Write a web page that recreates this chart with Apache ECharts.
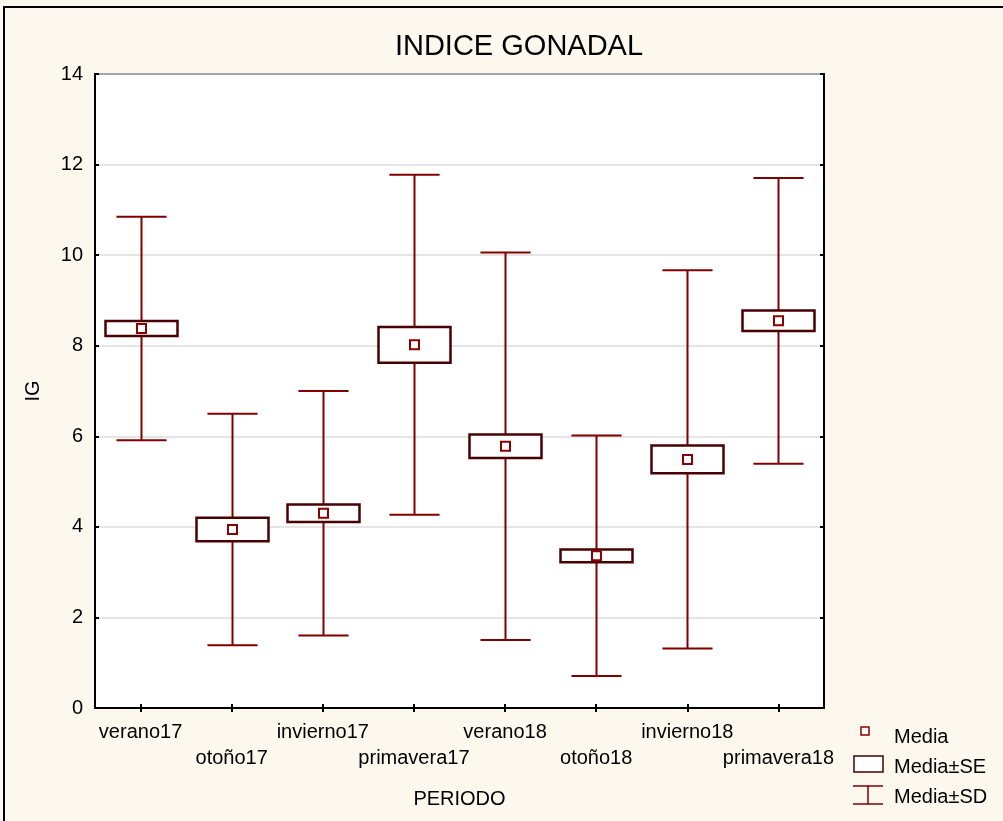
<!DOCTYPE html>
<html>
<head>
<meta charset="utf-8">
<style>
  html, body { margin: 0; padding: 0; background: #fdf8ee; }
  #chart { width: 1003px; height: 821px; }
</style>
<script src="https://cdn.jsdelivr.net/npm/echarts@6/dist/echarts.min.js"></script>
</head>
<body>
<div id="chart"></div>
<script>
// Periods (x categories)
const periods = ['verano17', 'otoño17', 'invierno17', 'primavera17',
                 'verano18', 'otoño18', 'invierno18', 'primavera18'];
// Mean gonadal index per period
const mediaIG = [8.38, 3.94, 4.30, 8.02, 5.78, 3.36, 5.49, 8.55];
// Standard error per period (box half-height)
const errorEstandar = [0.165, 0.26, 0.195, 0.395, 0.26, 0.14, 0.305, 0.225];
// Standard deviation per period (whisker half-length)
const desvEstandar = [2.47, 2.555, 2.70, 3.755, 4.28, 2.655, 4.175, 3.155];
// Y axis ticks
const yTicks = [0, 2, 4, 6, 8, 10, 12, 14];

const FONT = '"Liberation Sans", Arial, sans-serif';
const WHISKER = '#800000';
const BOXLINE = '#4a0000';
const MEAN = '#8b0000';

const seriesData = periods.map((p, i) => [i, mediaIG[i], errorEstandar[i], desvEstandar[i]]);

function renderItem(params, api) {
  const i = api.value(0);
  const m = api.value(1), se = api.value(2), sd = api.value(3);
  const c = api.coord([i, m]);
  const sdHi = api.coord([i, m + sd]);
  const sdLo = api.coord([i, m - sd]);
  const seHi = api.coord([i, m + se]);
  const seLo = api.coord([i, m - se]);
  const band = api.size([1, 0])[0];
  const boxHalf = band * 0.395;
  const capHalf = band * 0.275;
  const x = Math.round(c[0]) + 0.5;
  const lineStyle = { stroke: WHISKER, lineWidth: 2 };
  return {
    type: 'group',
    children: [
      { type: 'line', shape: { x1: x, y1: sdHi[1], x2: x, y2: sdLo[1] }, style: lineStyle },
      { type: 'line', shape: { x1: x - capHalf, y1: sdHi[1], x2: x + capHalf, y2: sdHi[1] }, style: lineStyle },
      { type: 'line', shape: { x1: x - capHalf, y1: sdLo[1], x2: x + capHalf, y2: sdLo[1] }, style: lineStyle },
      { type: 'rect',
        shape: { x: x - boxHalf, y: seHi[1], width: boxHalf * 2, height: seLo[1] - seHi[1] },
        style: { fill: '#ffffff', stroke: BOXLINE, lineWidth: 2.5 } },
      { type: 'rect',
        shape: { x: x - 4.5, y: c[1] - 4.5, width: 9, height: 9 },
        style: { fill: '#ffffff', stroke: MEAN, lineWidth: 2 } }
    ]
  };
}

const chart = echarts.init(document.getElementById('chart'), null, { renderer: 'canvas' });

const legendX = 853, legendTextX = 894;
const option = {
  animation: false,
  backgroundColor: '#fdf8ee',
  textStyle: { fontFamily: FONT },
  title: {
    text: 'INDICE GONADAL',
    left: 514, top: 27, textAlign: 'center',
    textStyle: { fontFamily: FONT, fontSize: 29, fontWeight: 'normal', color: '#000' }
  },
  grid: {
    left: 95, top: 74, right: 179, bottom: 113,
    show: true, backgroundColor: '#ffffff', borderColor: '#000', borderWidth: 2
  },
  xAxis: [
    {
      type: 'category', data: periods, position: 'bottom',
      boundaryGap: true,
      name: 'PERIODO', nameLocation: 'middle', nameGap: 81,
      nameTextStyle: { fontFamily: FONT, fontSize: 20, color: '#000' },
      axisLine: { show: true, lineStyle: { color: '#000', width: 2 } },
      axisTick: { show: true, inside: true, alignWithLabel: true, length: 4, lineStyle: { color: '#000', width: 2 } },
      axisLabel: {
        interval: 0, hideOverlap: false, margin: 11,
        fontFamily: FONT, fontSize: 20, color: '#000', lineHeight: 26,
        formatter: (v, idx) => (idx % 2 === 1 ? '\n' + v : v)
      },
      splitLine: { show: false }
    },
    {
      type: 'category', data: periods, position: 'top',
      boundaryGap: true,
      axisLine: { show: true, lineStyle: { color: '#000', width: 2 } },
      axisTick: { show: true, inside: true, alignWithLabel: true, length: 4, lineStyle: { color: '#000', width: 2 } },
      axisLabel: { show: false },
      splitLine: { show: false }
    }
  ],
  yAxis: [
    {
      type: 'value', min: 0, max: 14, interval: 2, position: 'left',
      name: 'IG', nameLocation: 'middle', nameGap: 52, nameRotate: 90,
      nameTextStyle: { fontFamily: FONT, fontSize: 20, color: '#000' },
      axisLine: { show: true, lineStyle: { color: '#000', width: 2 } },
      axisTick: { show: true, inside: true, length: 4, lineStyle: { color: '#000', width: 2 } },
      axisLabel: { margin: 12, fontFamily: FONT, fontSize: 20, color: '#000',
                   formatter: v => (yTicks.includes(v) ? String(v) : '') },
      splitLine: { show: true, lineStyle: { color: '#dcdcdc', width: 1.5 } }
    },
    {
      type: 'value', min: 0, max: 14, interval: 2, position: 'right',
      axisLine: { show: true, lineStyle: { color: '#000', width: 2 } },
      axisTick: { show: true, inside: true, length: 4, lineStyle: { color: '#000', width: 2 } },
      axisLabel: { show: false },
      splitLine: { show: false }
    }
  ],
  series: [
    {
      type: 'custom', name: 'IG',
      xAxisIndex: 0, yAxisIndex: 0,
      renderItem: renderItem,
      encode: { x: 0, y: 1 },
      data: seriesData,
      z: 5
    }
  ],
  graphic: [
    // page frame
    { type: 'polyline', shape: { points: [[4, 821], [4, 7], [1003, 7]] },
      style: { stroke: '#000', lineWidth: 2, fill: null }, silent: true },
    // legend: mean marker
    { type: 'rect', shape: { x: 861, y: 727, width: 8, height: 8 },
      style: { fill: '#fff', stroke: MEAN, lineWidth: 1.5 } },
    { type: 'text', x: legendTextX, y: 737,
      style: { text: 'Media', font: '20px ' + FONT, fill: '#000', textVerticalAlign: 'middle', verticalAlign: 'middle' } },
    // legend: SE box
    { type: 'rect', shape: { x: 854, y: 756, width: 29, height: 16 },
      style: { fill: '#fff', stroke: BOXLINE, lineWidth: 1.5 } },
    { type: 'text', x: legendTextX, y: 767,
      style: { text: 'Media±SE', font: '20px ' + FONT, fill: '#000', textVerticalAlign: 'middle', verticalAlign: 'middle' } },
    // legend: SD whisker
    { type: 'line', shape: { x1: legendX, y1: 786, x2: legendX + 30, y2: 786 },
      style: { stroke: WHISKER, lineWidth: 1.5 } },
    { type: 'line', shape: { x1: legendX, y1: 804, x2: legendX + 30, y2: 804 },
      style: { stroke: WHISKER, lineWidth: 1.5 } },
    { type: 'line', shape: { x1: legendX + 15, y1: 786, x2: legendX + 15, y2: 804 },
      style: { stroke: WHISKER, lineWidth: 1.5 } },
    { type: 'text', x: legendTextX, y: 797,
      style: { text: 'Media±SD', font: '20px ' + FONT, fill: '#000', textVerticalAlign: 'middle', verticalAlign: 'middle' } }
  ]
};

chart.setOption(option);
</script>
</body>
</html>
